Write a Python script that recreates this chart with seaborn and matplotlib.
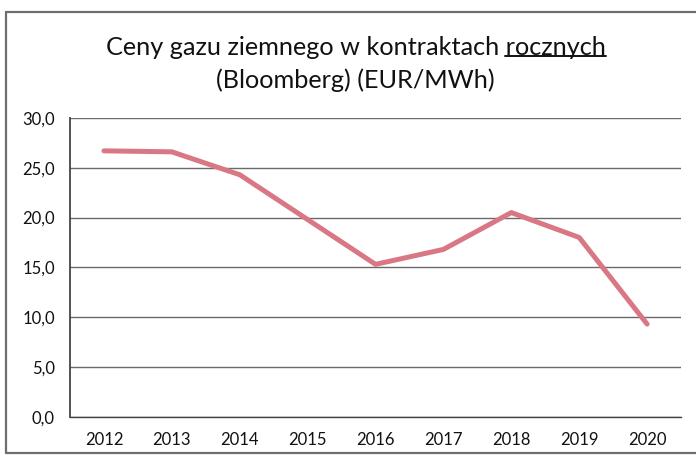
import matplotlib
matplotlib.use("Agg")
import matplotlib.pyplot as plt
import seaborn as sns
import pandas as pd
from matplotlib.lines import Line2D

years = ["2012", "2013", "2014", "2015", "2016", "2017", "2018", "2019", "2020"]
prices = [26.7, 26.6, 24.3, 19.8, 15.3, 16.8, 20.5, 18.0, 9.3]
y_ticks = [0, 5, 10, 15, 20, 25, 30]
title_1 = "Ceny gazu ziemnego w kontraktach "
title_word = "rocznych"
title_2 = "(Bloomberg) (EUR/MWh)"

df = pd.DataFrame({"year": years, "price": prices})

sns.set_style("white")
plt.rcParams["font.family"] = ["Lato", "DejaVu Sans"]

fig = plt.figure(figsize=(6.96, 4.55), dpi=100)
ax = fig.add_axes([0.1006, 0.0842, 0.8779, 0.6565])

sns.lineplot(data=df, x="year", y="price", ax=ax, color="#d97884",
             linewidth=3.6, sort=False)

ax.set_xlim(-0.5, len(years) - 0.5)
ax.set_ylim(0, 30)
ax.set_yticks(y_ticks)
ax.set_yticklabels([f"{v:.1f}".replace(".", ",") for v in y_ticks])
ax.grid(axis="y", color="#6a6a6a", linewidth=1.0)
ax.set_axisbelow(True)
ax.set_xlabel("")
ax.set_ylabel("")
for side in ["top", "right"]:
    ax.spines[side].set_visible(False)
ax.spines["left"].set_color("#444444")
ax.spines["bottom"].set_color("#444444")
ax.spines["left"].set_linewidth(1.3)
ax.spines["bottom"].set_linewidth(1.0)
ax.tick_params(axis="both", length=0, labelsize=12, colors="#111111")
ax.tick_params(axis="y", pad=11)
ax.tick_params(axis="x", pad=11)

# title, with the last word underlined
fs = 18.2
t1 = fig.text(0.511, 0.895, title_1 + title_word, ha="center", va="center",
              fontsize=fs, color="#111111")
fig.text(0.511, 0.823, title_2, ha="center", va="center",
         fontsize=fs, color="#111111")
fig.canvas.draw()
r = fig.canvas.get_renderer()
bb = t1.get_window_extent(r)
tw = fig.text(0, 0, title_word, fontsize=fs)
wbb = tw.get_window_extent(r)
tw.remove()
x1 = bb.x1
x0 = x1 - wbb.width
yl = bb.y0 + 3
W, H = fig.bbox.width, fig.bbox.height
fig.add_artist(Line2D([x0 / W, x1 / W], [yl / H, yl / H], color="#111111",
                      linewidth=1.4, transform=fig.transFigure))

# outer frame of the chart box
fr = "#6e6e6e"
fig.add_artist(Line2D([0.009, 0.009], [0.004, 0.973], color=fr, linewidth=1.6,
                      transform=fig.transFigure))
fig.add_artist(Line2D([0.009, 1.0], [0.973, 0.973], color=fr, linewidth=1.6,
                      transform=fig.transFigure))
fig.add_artist(Line2D([0.009, 1.0], [0.004, 0.004], color=fr, linewidth=1.6,
                      transform=fig.transFigure))

fig.savefig("out.png", dpi=100)
